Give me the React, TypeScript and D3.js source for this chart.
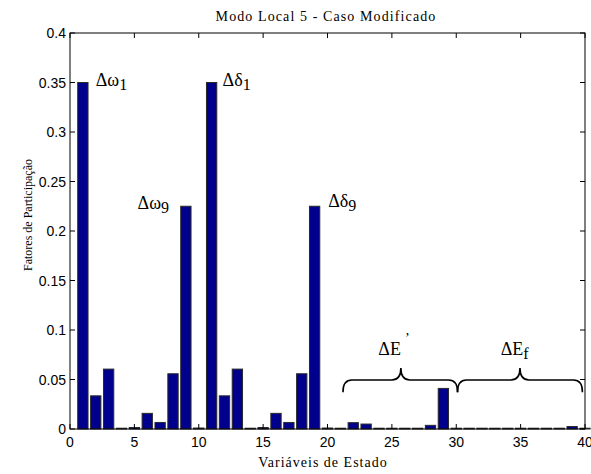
import React from "react";
import * as d3 from "d3";

const stateVars: number[] = d3.range(1, 41);
const participation: number[] = [
  0.35, 0.0335, 0.0605, 0.0008, 0.0015, 0.0158, 0.0066, 0.0558, 0.225, 0.001,
  0.35, 0.0335, 0.0605, 0.0008, 0.0015, 0.0158, 0.0066, 0.0558, 0.225, 0.001,
  0.0008, 0.0064, 0.005, 0.0008, 0.0008, 0.0008, 0.0008, 0.0037, 0.041, 0.0008,
  0.0006, 0.0006, 0.0006, 0.0006, 0.0006, 0.0006, 0.0006, 0.0006, 0.0025, 0.0008,
];
const xTicks: number[] = [0, 5, 10, 15, 20, 25, 30, 35, 40];
const yTicks: number[] = [0, 0.05, 0.1, 0.15, 0.2, 0.25, 0.3, 0.35, 0.4];

const labelMain: string[] = ["Δω", "Δδ", "Δω", "Δδ", "ΔE", "ΔE"];
const labelSub: string[] = ["1", "1", "9", "9", "", "f"];
const labelX: number[] = [2.0, 11.85, 5.25, 20.05, 23.95, 33.45];
const labelY: number[] = [0.346, 0.346, 0.222, 0.224, 0.0745, 0.0745];

const braceStart: number[] = [21.2, 30.1];
const braceEnd: number[] = [30.1, 39.8];
const braceTip: number[] = [25.7, 34.95];
const braceLevel = 0.0495;
const braceTipLevel = 0.0616;
const braceEndLevel = 0.0372;

const W = 591;
const H = 474;
const M = { left: 70, right: 6, top: 33, bottom: 45 };

export default function App() {
  const x = d3.scaleLinear().domain([0, 40]).range([M.left, W - M.right]);
  const y = d3.scaleLinear().domain([0, 0.4]).range([H - M.bottom, M.top]);
  const bw = (x(1) - x(0)) * 0.8;
  const tick = 5;
  const serif = "'Liberation Serif', 'Times New Roman', Times, serif";
  const sans = "'Liberation Sans', Arial, Helvetica, sans-serif";

  const bracePath = (i: number) => {
    const x0 = x(braceStart[i]);
    const x1 = x(braceEnd[i]);
    const xt = x(braceTip[i]);
    const yb = y(braceLevel);
    const yt = y(braceTipLevel);
    const ye = y(braceEndLevel);
    const r = 9;
    const p = d3.path();
    p.moveTo(x0, ye);
    p.quadraticCurveTo(x0, yb, x0 + r, yb);
    p.lineTo(xt - r, yb);
    p.quadraticCurveTo(xt, yb, xt, yt);
    p.quadraticCurveTo(xt, yb, xt + r, yb);
    p.lineTo(x1 - r, yb);
    p.quadraticCurveTo(x1, yb, x1, ye);
    return p.toString();
  };

  return (
    <svg width={W} height={H} style={{ position: "absolute", left: 0, top: 0, background: "#fff" }}>
      <rect x={0} y={0} width={W} height={H} fill="#fff" />
      {stateVars.map((v, i) => {
        const h = Math.max(y(0) - y(participation[i]), 0.8);
        return (
          <rect
            key={v}
            x={x(v) - bw / 2}
            y={y(0) - h}
            width={bw}
            height={h}
            fill="#00008c"
            stroke="#2a2a2a"
            strokeWidth={1}
          />
        );
      })}
      <rect x={x(0)} y={y(0.4)} width={x(40) - x(0)} height={y(0) - y(0.4)} fill="none" stroke="#000" strokeWidth={1} />
      {xTicks.map((t) => (
        <g key={"xt" + t}>
          <line x1={x(t)} x2={x(t)} y1={y(0)} y2={y(0) - tick} stroke="#000" />
          <line x1={x(t)} x2={x(t)} y1={y(0.4)} y2={y(0.4) + tick} stroke="#000" />
          <text x={x(t)} y={447} textAnchor="middle" fontFamily={sans} fontSize={14} fill="#000">
            {t}
          </text>
        </g>
      ))}
      {yTicks.map((t) => (
        <g key={"yt" + t}>
          <line x1={x(0)} x2={x(0) + tick} y1={y(t)} y2={y(t)} stroke="#000" />
          <line x1={x(40)} x2={x(40) - tick} y1={y(t)} y2={y(t)} stroke="#000" />
          <text x={x(0) - 4} y={y(t) + 5} textAnchor="end" fontFamily={sans} fontSize={14} fill="#000">
            {String(t)}
          </text>
        </g>
      ))}
      <text x={326} y={21} textAnchor="middle" fontFamily={serif} fontSize={14} letterSpacing={1.1} fill="#000">
        Modo Local 5 - Caso Modificado
      </text>
      <text x={323} y={467} textAnchor="middle" fontFamily={serif} fontSize={14} letterSpacing={1} fill="#000">
        Variáveis de Estado
      </text>
      <text
        transform={`translate(32,215) rotate(-90)`}
        textAnchor="middle"
        fontFamily={serif}
        fontSize={12}
        fill="#000"
      >
        Fatores de Participação
      </text>
      {labelMain.map((m, i) => (
        <text key={"lb" + i} x={x(labelX[i])} y={y(labelY[i])} fontFamily={serif} fontSize={18} fill="#000">
          {m}
          {labelSub[i] ? (
            <tspan fontSize={16} dy={4}>
              {labelSub[i]}
            </tspan>
          ) : (
            <tspan fontSize={14} dx={4} dy={-12}>
              ’
            </tspan>
          )}
        </text>
      ))}
      {braceStart.map((_, i) => (
        <path key={"br" + i} d={bracePath(i)} fill="none" stroke="#000" strokeWidth={1.6} />
      ))}
    </svg>
  );
}
